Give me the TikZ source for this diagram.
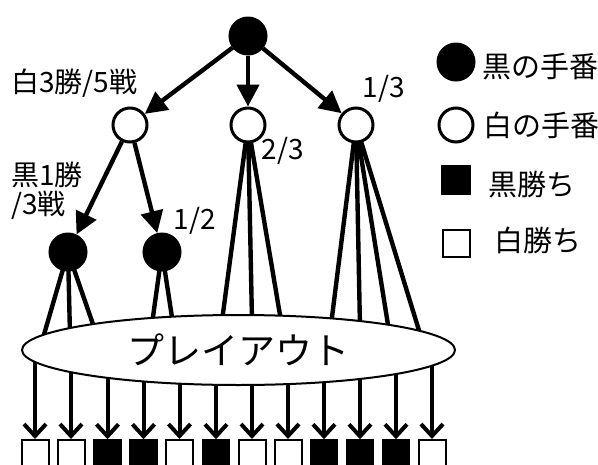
\documentclass[tikz,border=0pt]{standalone}
\usepackage{fontspec}
\newfontfamily\jp{Noto Sans CJK JP}
\usetikzlibrary{arrows.meta,shapes.geometric}
\pgfdeclarelayer{back}
\pgfdeclarelayer{bg}
\pgfsetlayers{back,bg,main}
\begin{document}
\begin{tikzpicture}[x=1pt,y=-1pt,
  conn/.style={line width=4.4pt},
  bigarrow/.style={line width=4.4pt,-{Triangle[length=22pt,width=22pt]}},
  outarrow/.style={line width=4pt,-{Straight Barb[length=12pt,width=22pt,line width=4pt]}},
  bnode/.style={circle,fill=black,draw=black,line width=1pt,minimum size=38pt,inner sep=0pt},
  wnode/.style={circle,fill=white,draw=black,line width=3pt,minimum size=34pt,inner sep=0pt},
  bsq/.style={rectangle,fill=black,draw=black,line width=1.5pt,minimum size=27pt,inner sep=0pt},
  wsq/.style={rectangle,fill=white,draw=black,line width=2pt,minimum size=27pt,inner sep=0pt},
  lbl/.style={font=\jp\fontsize{28}{30}\selectfont,inner sep=0pt},
  leg/.style={font=\jp\fontsize{29}{31}\selectfont,inner sep=0pt,anchor=west},
]
\useasboundingbox (0,0) rectangle (598,464);
\clip (0,0) rectangle (598,464);
\begin{pgfonlayer}{back}
\fill[white] (0,0) rectangle (598,464);
\end{pgfonlayer}

% tree nodes
\node[bnode] (root) at (248,36) {};
\node[wnode] (w1) at (130,125) {};
\node[wnode] (w2) at (248,125) {};
\node[wnode] (w3) at (356,125) {};
\node[bnode] (b1) at (68,252) {};
\node[bnode] (b2) at (162,252) {};

% playout ellipse
\node[ellipse,draw=black,fill=white,line width=2pt,minimum width=433pt,minimum height=70pt,inner sep=0pt,
      font=\jp\fontsize{37}{39}\selectfont] (po) at (238.5,350) {プレイアウト};

% result squares
\foreach \i/\x/\s in {1/35/wsq,2/71/wsq,3/107.5/bsq,4/143.5/bsq,5/179.5/wsq,6/216/bsq,
                      7/252/wsq,8/288/wsq,9/324/bsq,10/360/bsq,11/396/bsq,12/432/wsq}{
  \node[\s] (s\i) at (\x,453.5) {};
}

% end points of the playout lines (hidden under the ellipse)
\coordinate (e1) at (43,338);
\coordinate (e2) at (70,335);
\coordinate (e3) at (95,330);
\coordinate (e4) at (152,324);
\coordinate (e5) at (173,324);
\coordinate (e6) at (222,321);
\coordinate (e7) at (252,321);
\coordinate (e8) at (281,321);
\coordinate (e9) at (331,325);
\coordinate (e10) at (360,328);
\coordinate (e11) at (389,331);
\coordinate (e12) at (421,337);

\begin{pgfonlayer}{bg}
  \foreach \e in {e1,e2,e3} \draw[conn] (b1.center) -- (\e);
  \foreach \e in {e4,e5} \draw[conn] (b2.center) -- (\e);
  \foreach \e in {e6,e7,e8} \draw[conn] (w2.center) -- (\e);
  \foreach \e in {e9,e10,e11,e12} \draw[conn] (w3.center) -- (\e);
  \foreach \i in {1,...,12} \draw[outarrow] (s\i |- po.center) -- (s\i.north);
\end{pgfonlayer}

% tree arrows
\draw[bigarrow] (root) -- (w1);
\draw[bigarrow] (root) -- (w2);
\draw[bigarrow] (root) -- (w3);
\draw[bigarrow] (w1) -- (b1);
\draw[bigarrow] (w1) -- (b2);

% labels
\node[lbl,anchor=west] (l1) at (11,83) {白3勝/5戦};
\node[lbl,anchor=west] (l2) at (11,175) {黒1勝};
\node[lbl,anchor=west] (l3) at (11,205) {/3戦};
\node[lbl] (l4) at (195,221) {1/2};
\node[lbl] (l5) at (283,151) {2/3};
\node[lbl] (l6) at (384,89) {1/3};

% legend
\node[bnode] (k1) at (456,62) {};
\node[leg] (t1) at (482,67) {黒の手番};
\node[wnode] (k2) at (456,125) {};
\node[leg] (t2) at (483,125) {白の手番};
\node[bsq,minimum size=29pt] (k3) at (456,180) {};
\node[leg] (t3) at (488,185) {黒勝ち};
\node[wsq] (k4) at (456,243) {};
\node[leg] (t4) at (494,240) {白勝ち};
\end{tikzpicture}
\end{document}
